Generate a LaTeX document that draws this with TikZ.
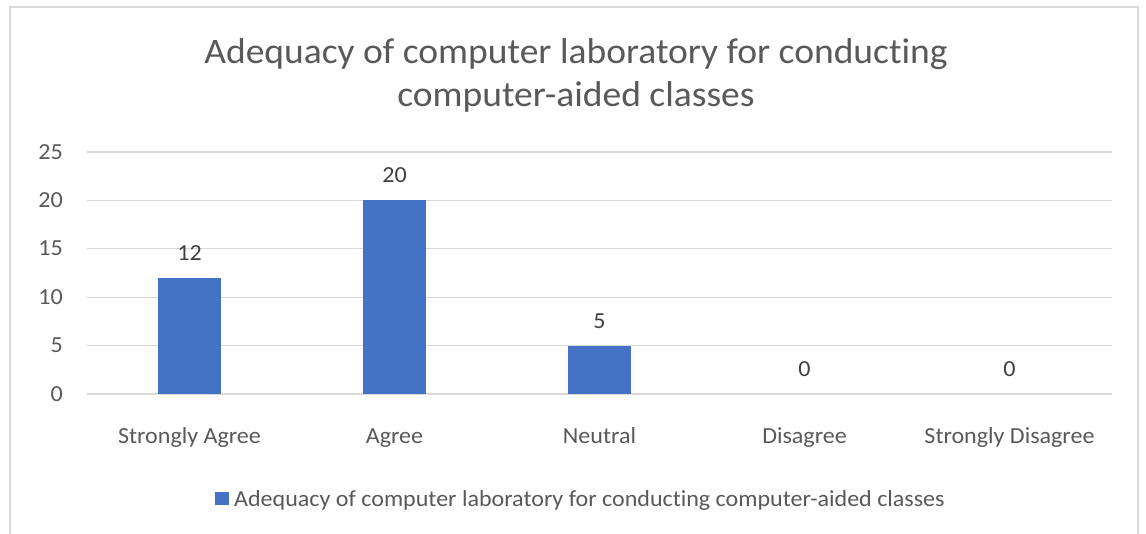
\documentclass[tikz,border=0pt]{standalone}
\usepackage{fontspec}
\setmainfont{Carlito}[FakeStretch=1.045,Ligatures=NoCommon]
\definecolor{barblue}{HTML}{4472C4}
\definecolor{txtgray}{HTML}{595959}
\definecolor{valgray}{HTML}{404040}
\definecolor{gridgray}{HTML}{D9D9D9}
\begin{document}
\begin{tikzpicture}[x=1pt,y=-1pt,
  gridline/.style={draw=gridgray,line width=1.3pt},
  bar/.style={fill=barblue,draw=none},
  ticklbl/.style={anchor=base east,text=txtgray,font=\fontsize{23}{27}\selectfont,inner sep=0pt},
  catlbl/.style={anchor=base,text=txtgray,font=\fontsize{23}{27}\selectfont,inner sep=0pt},
  vallbl/.style={anchor=base,text=valgray,font=\fontsize{23}{27}\selectfont,inner sep=0pt},
  titlelbl/.style={anchor=base,text=txtgray,font=\fontsize{35.9}{43}\selectfont,inner sep=0pt}]
\useasboundingbox (0,0) rectangle (1146,533);
\fill[white] (0,0) rectangle (1146,533);
% frame
\draw[draw=gridgray,line width=2pt] (10,540) -- (10,7) -- (1138,7) -- (1138,540);
% title
\node[titlelbl] (t1) at (576,63) {Adequacy of computer laboratory for conducting};
\node[titlelbl] (t2) at (576,106) {computer-aided classes};
% grid + tick labels
\foreach \v in {0,5,...,25}{
  \pgfmathsetmacro{\yy}{394-9.68*\v}
  \draw[gridline] (87,\yy) -- (1112,\yy);
  \node[ticklbl] (tick\v) at (63,\yy+7) {\v};
}
% bars
\foreach \c/\v/\lab [count=\i] in {189.5/12/Strongly Agree,394.5/20/Agree,599.5/5/Neutral,804.5/0/Disagree,1009.5/0/Strongly Disagree}{
  \pgfmathsetmacro{\yy}{394-9.68*\v}
  \ifnum\v>0 \fill[bar] (\c-31.5,\yy) rectangle (\c+31.5,394); \fi
  \node[vallbl] (val\i) at (\c,\yy-17.5) {\v};
  \node[catlbl] (cat\i) at (\c,443) {\lab};
}
% legend
\fill[bar] (215,492) rectangle (229,505);
\node[anchor=base west,text=txtgray,font=\fontsize{23}{27}\selectfont,inner sep=0pt] (leg) at (234,506) {Adequacy of computer laboratory for conducting computer-aided classes};
\end{tikzpicture}
\end{document}
